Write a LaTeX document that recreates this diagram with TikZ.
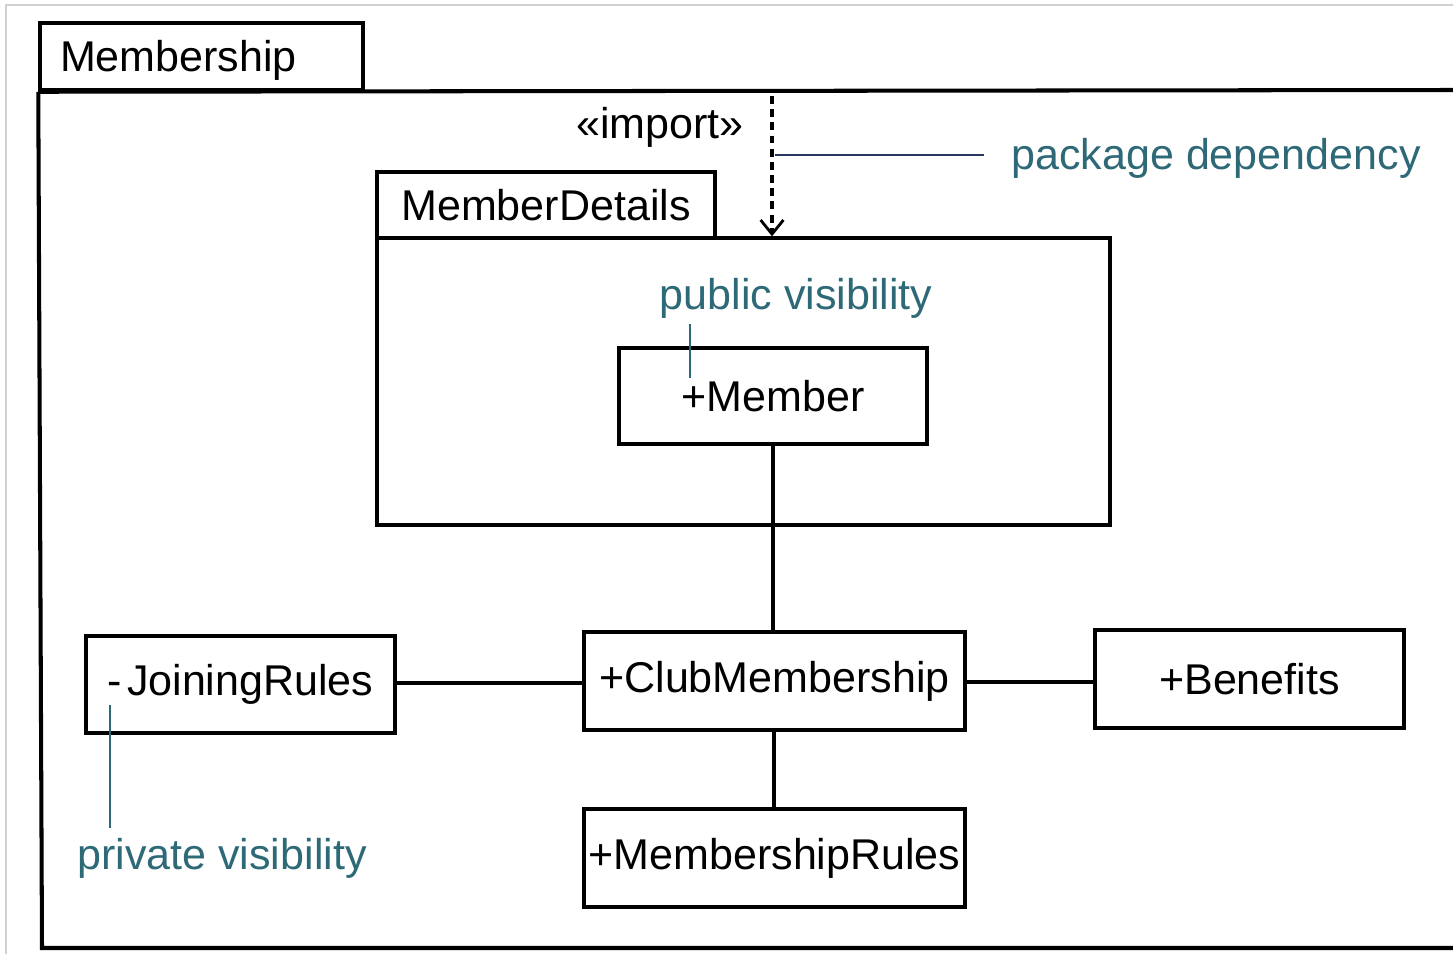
\documentclass[tikz,border=0pt]{standalone}
\usepackage{fontspec}
\setmainfont{Liberation Sans}
\usetikzlibrary{arrows.meta}
\definecolor{noteteal}{RGB}{45,105,118}
\definecolor{noteline}{RGB}{40,55,95}
\begin{document}
\begin{tikzpicture}[x=0.02cm,y=-0.02cm,
  every node/.style={font=\fontsize{24.5}{29}\selectfont},
  umlbox/.style={draw,line width=1.8pt,inner sep=2pt},
  tabbox/.style={draw,line width=2pt,inner sep=2pt},
  link/.style={line width=1.8pt},
  note/.style={text=noteteal},
  noteln/.style={line width=1.4pt,draw=noteteal},
  depend/.style={line width=2pt,dash pattern=on 4.5pt off 3pt,
    -{Straight Barb[length=8pt,width=13pt,line width=1.6pt]}}]
\useasboundingbox (0,0) rectangle (1453,954);

% faint scan border
\draw[black!18,line width=0.6pt] (6,954) -- (6,5) -- (1453,5);

% outer package frame
\node[tabbox,minimum width=6.46cm,minimum height=1.34cm,
  text height=0.82cm,text depth=0.22cm]
  (mtab) at (201.5,56.5) {\makebox[5.66cm][l]{Membership}};
\draw[line width=2.3pt] (mtab.south west) -- (42,948) -- (1453,948);
\draw[line width=2.3pt] (mtab.south west) -- (1453,90);

% nested package MemberDetails
\node[tabbox,minimum width=6.76cm,minimum height=1.32cm] (dtab) at (546,205) {MemberDetails};
\node[tabbox,minimum width=14.66cm,minimum height=5.74cm] (dbody) at (743.5,381.5) {};

% classes
\node[umlbox,minimum width=6.16cm,minimum height=1.92cm] (member) at (773,396) {+Member};
\node[umlbox,minimum width=7.62cm,minimum height=1.96cm] (club) at (774.5,681) {+ClubMembership};
\node[umlbox,minimum width=6.18cm,minimum height=1.94cm] (join) at (240.5,684.5) {-\kern3pt JoiningRules};
\node[umlbox,minimum width=6.18cm,minimum height=1.96cm] (bene) at (1249.5,679) {+Benefits};
\node[umlbox,minimum width=7.62cm,minimum height=1.96cm] (rules) at (774.5,858) {+MembershipRules};

% associations
\draw[link] (member.south -| 773,0) -- (club.north -| 773,0);
\draw[link] (join.east |- 0,683) -- (club.west |- 0,683);
\draw[link] (club.east |- 0,682) -- (bene.west |- 0,682);
\draw[link] (club.south -| 774,0) -- (rules.north -| 774,0);

% import dependency
\coordinate (depstart) at (772,96);
\draw[depend] (depstart) -- (dbody.north -| depstart);
\node (imp) at (660,127) {«import»};

% annotations
\node[note] (pkgdep) at (1216,158) {package dependency};
\coordinate (depmark) at (775,155);
\draw[line width=1.5pt,draw=noteline,shorten >=12pt] (depmark) -- (pkgdep.west |- depmark);

\node[note] (pubvis) at (796,298) {public visibility};
\coordinate (pubend) at (690,378);
\draw[noteln] (pubend |- pubvis.south) -- (pubend);

\node[note] (privis) at (222,858) {private visibility};
\coordinate (privstart) at (110,705);
\draw[noteln] (privstart) -- (privstart |- 0,828);
\end{tikzpicture}
\end{document}
